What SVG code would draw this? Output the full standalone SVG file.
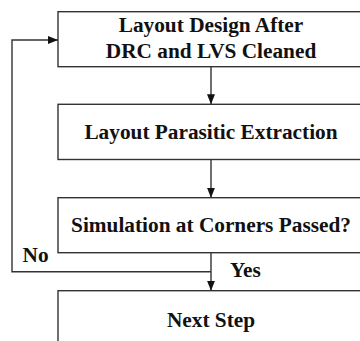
<svg xmlns="http://www.w3.org/2000/svg" width="360" height="341" viewBox="0 0 360 341">
<style>
.box{fill:#fff;stroke:#333;stroke-width:1.4}
text{font-family:'Liberation Serif','Times New Roman',Times,serif;font-weight:bold;font-size:21.3px;fill:#111}
.t{text-anchor:middle}
.c{fill:none;stroke:#333;stroke-width:1.4}
</style>
<defs>
<marker id="ah" markerWidth="10" markerHeight="8" refX="10" refY="4" orient="auto" markerUnits="userSpaceOnUse">
<path d="M0,0 L10,4 L0,8 Z" fill="#111"/>
</marker>
</defs>
<rect width="360" height="341" fill="#fff"/>
<g id="n1">
<rect class="box" x="58" y="11.7" width="310" height="55"/>
<text class="t" x="211" y="32" font-family="Liberation Serif, serif">Layout Design After</text>
<text class="t" x="211" y="58" font-family="Liberation Serif, serif">DRC and LVS Cleaned</text>
</g>
<g id="n2">
<rect class="box" x="58" y="104.3" width="310" height="55.2"/>
<text class="t" x="211" y="138.5" font-family="Liberation Serif, serif">Layout Parasitic Extraction</text>
</g>
<g id="n3">
<rect class="box" x="58" y="197.7" width="310" height="55"/>
<text class="t" x="211" y="232.3" font-family="Liberation Serif, serif">Simulation at Corners Passed?</text>
</g>
<g id="n4">
<rect class="box" x="58" y="290.7" width="310" height="60"/>
<text class="t" x="211" y="326.5" font-family="Liberation Serif, serif">Next Step</text>
</g>
<g id="connectors">
<line class="c" x1="211" y1="66.7" x2="211" y2="104.3" marker-end="url(#ah)"/>
<line class="c" x1="211" y1="159.5" x2="211" y2="197.7" marker-end="url(#ah)"/>
<line class="c" x1="211" y1="252.7" x2="211" y2="290.7" marker-end="url(#ah)"/>
<polyline class="c" points="211,271.7 12,271.7 12,40 58,40" marker-end="url(#ah)"/>
<text x="22.5" y="262" font-family="Liberation Serif, serif">No</text>
<text x="230" y="277" font-family="Liberation Serif, serif">Yes</text>
</g>
</svg>
